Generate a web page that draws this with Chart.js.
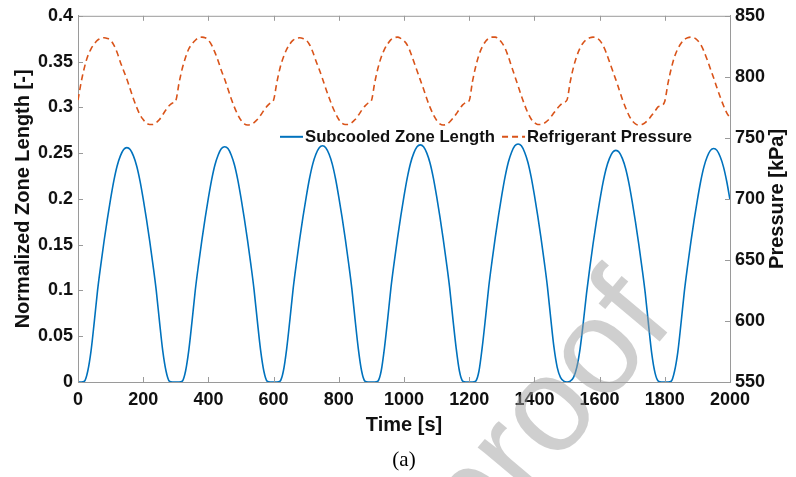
<!DOCTYPE html>
<html lang="en">
<head>
<meta charset="UTF-8">
<title>Subcooled zone length and refrigerant pressure</title>
<script src="https://cdn.jsdelivr.net/npm/chart.js"></script>
<style>
  html, body { margin: 0; padding: 0; background: #fff; }
  canvas { display: block; }
</style>
</head>
<body>
<canvas id="chart" width="796" height="477"></canvas>
<script>
// sampling grid, every 10 s from 0 to 2000 s
const time = Array.from({ length: 201 }, (_, i) => i * 10);

// normalized subcooled zone length [-]
const zoneLength = [
  0, 0, 0.001, 0.012, 0.034, 0.066, 0.100, 0.128, 0.154, 0.178, 0.200, 0.220, 0.236, 0.247, 0.254, 0.256,
  0.254, 0.247, 0.236, 0.220, 0.200, 0.178, 0.154, 0.128, 0.100, 0.066, 0.034, 0.012, 0.001, 0,
  0,
  0, 0.001, 0.012, 0.035, 0.067, 0.101, 0.129, 0.155, 0.179, 0.201, 0.221, 0.237, 0.248, 0.255, 0.257,
  0.255, 0.248, 0.237, 0.221, 0.201, 0.179, 0.155, 0.129, 0.101, 0.067, 0.035, 0.012, 0.001, 0,
  0,
  0, 0.001, 0.012, 0.036, 0.068, 0.102, 0.130, 0.156, 0.180, 0.202, 0.222, 0.238, 0.249, 0.256, 0.258,
  0.256, 0.249, 0.238, 0.222, 0.202, 0.180, 0.156, 0.130, 0.102, 0.068, 0.036, 0.012, 0.001, 0,
  0,
  0, 0.001, 0.012, 0.037, 0.069, 0.103, 0.131, 0.157, 0.181, 0.203, 0.223, 0.239, 0.250, 0.257, 0.259,
  0.257, 0.250, 0.239, 0.223, 0.203, 0.181, 0.157, 0.131, 0.103, 0.069, 0.037, 0.012, 0.001, 0,
  0,
  0, 0.001, 0.012, 0.038, 0.070, 0.104, 0.132, 0.158, 0.182, 0.204, 0.224, 0.240, 0.251, 0.258, 0.260,
  0.258, 0.251, 0.240, 0.224, 0.204, 0.182, 0.158, 0.132, 0.104, 0.070, 0.038, 0.016, 0.005, 0.001,
  0,
  0.001, 0.005, 0.016, 0.036, 0.065, 0.097, 0.125, 0.151, 0.175, 0.197, 0.217, 0.233, 0.244, 0.251, 0.253,
  0.251, 0.244, 0.233, 0.217, 0.197, 0.175, 0.151, 0.125, 0.097, 0.063, 0.031, 0.010, 0.001, 0,
  0,
  0, 0.001, 0.012, 0.033, 0.065, 0.099, 0.127, 0.153, 0.177, 0.199, 0.219, 0.235, 0.246, 0.253, 0.255,
  0.253, 0.246, 0.235, 0.219, 0.199
];

// refrigerant pressure [kPa]
const pressure = [
  781, 796, 808, 817, 823, 827, 830, 831.5, 832, 831.5, 830, 826, 820, 812, 805,
  798, 790, 782, 775, 769, 765, 762, 761, 761, 762.5, 765, 769, 773, 776.5, 778.5,
  780.5, 795, 807, 816, 823, 827, 830, 832, 832.5, 832, 830, 826, 820, 813, 805,
  798, 790, 782, 775, 769, 764.5, 761.5, 760.5, 761, 762.5, 765, 768.5, 772.5, 776, 778.5,
  781, 795.5, 807.5, 816, 822.5, 827, 830, 831.5, 832, 831.5, 830, 826.5, 820.5, 813, 806,
  798.5, 790.5, 783, 776, 770, 765, 762, 761, 761, 762.5, 765, 768.5, 772.5, 776, 778.5,
  780.5, 795, 807, 816, 822.5, 827, 830.5, 832, 832.5, 831.5, 829.5, 826, 820, 812.5, 805,
  797.5, 790, 782, 775, 769, 764.5, 761.5, 760.5, 761, 763, 766, 769.5, 773.5, 777, 779,
  780.5, 796, 808.5, 818, 824.5, 829, 831.5, 832.5, 832.5, 831, 828, 823.5, 816.5, 808.5, 800.5,
  792.5, 784.5, 777, 770.5, 765.5, 762.5, 761, 761, 762, 764, 767, 770.5, 774, 777, 779,
  781, 796, 808, 817, 823.5, 828, 830.5, 832, 832.5, 832, 830, 826, 820, 812.5, 805,
  797.5, 789.5, 781.5, 774.5, 768.5, 764, 761.5, 760.5, 761, 762.5, 765, 768.5, 772, 775.5, 776.5,
  780, 795, 807, 816.5, 823, 827.5, 830.5, 832, 832.5, 832, 830, 826.5, 821, 814, 806.5,
  799, 791, 783.5, 776.5, 770.5,
  766.5
];

const xTicks = [0, 200, 400, 600, 800, 1000, 1200, 1400, 1600, 1800, 2000];
const leftTicks = [0, 0.05, 0.1, 0.15, 0.2, 0.25, 0.3, 0.35, 0.4];
const rightTicks = [550, 600, 650, 700, 750, 800, 850];

const BLUE = '#0072BD';
const ORANGE = '#D95319';
const AXIS = '#9a9a9a';
const TXT = '#111';
const FAMILY = 'Arial, "Liberation Sans", sans-serif';
const tickFont = { family: FAMILY, size: 18, weight: 'bold' };
const labelFont = { family: FAMILY, size: 20, weight: 'bold' };

// inward ticks, top border, right title, in-plot legend, caption and watermark
const decorations = {
  id: 'decorations',
  afterDraw(chart) {
    const { ctx, chartArea: a, scales } = chart;
    ctx.save();

    // top border
    ctx.strokeStyle = AXIS;
    ctx.lineWidth = 1;
    ctx.beginPath();
    ctx.moveTo(a.left, a.top + 0.5);
    ctx.lineTo(a.right, a.top + 0.5);
    ctx.stroke();

    // inward tick marks
    const len = 5;
    ctx.beginPath();
    xTicks.forEach(v => {
      const px = Math.round(scales.x.getPixelForValue(v)) + 0.5;
      ctx.moveTo(px, a.bottom); ctx.lineTo(px, a.bottom - len);
      ctx.moveTo(px, a.top); ctx.lineTo(px, a.top + len);
    });
    leftTicks.forEach(v => {
      const py = Math.round(scales.y.getPixelForValue(v)) + 0.5;
      ctx.moveTo(a.left, py); ctx.lineTo(a.left + len, py);
    });
    rightTicks.forEach(v => {
      const py = Math.round(scales.y2.getPixelForValue(v)) + 0.5;
      ctx.moveTo(a.right, py); ctx.lineTo(a.right - len, py);
    });
    ctx.stroke();

    // right axis title, reading bottom to top like the left one
    ctx.save();
    ctx.translate(777, (a.top + a.bottom) / 2);
    ctx.rotate(-Math.PI / 2);
    ctx.font = 'bold 20px ' + FAMILY;
    ctx.fillStyle = TXT;
    ctx.textAlign = 'center';
    ctx.textBaseline = 'middle';
    ctx.fillText('Pressure [kPa]', 0, 0);
    ctx.restore();

    // legend inside the plot, no frame
    ctx.font = 'bold 16.7px ' + FAMILY;
    ctx.textBaseline = 'middle';
    ctx.textAlign = 'left';
    let lx = a.left + 202;
    const ly = a.top + 121;
    chart.data.datasets.forEach(ds => {
      ctx.strokeStyle = ds.borderColor;
      ctx.lineWidth = 2;
      ctx.setLineDash(ds.borderDash || []);
      ctx.beginPath();
      ctx.moveTo(lx, ly); ctx.lineTo(lx + 23, ly);
      ctx.stroke();
      ctx.setLineDash([]);
      ctx.fillStyle = TXT;
      ctx.fillText(ds.label, lx + 25, ly + 1);
      lx += 25 + ctx.measureText(ds.label).width + 7;
    });

    // caption
    ctx.font = '21px "Liberation Serif", "DejaVu Serif", serif';
    ctx.textAlign = 'center';
    ctx.fillStyle = '#000';
    ctx.fillText('(a)', (a.left + a.right) / 2, 460);

    // watermark
    ctx.translate(676, 322);
    ctx.rotate(-50 * Math.PI / 180);
    ctx.font = '135px ' + FAMILY;
    ctx.textAlign = 'right';
    ctx.textBaseline = 'alphabetic';
    ctx.fillStyle = 'rgba(160,160,160,0.5)';
    ctx.fillText('Journal Pre-proof', 0, 0);

    ctx.restore();
  }
};

new Chart(document.getElementById('chart'), {
  type: 'line',
  data: {
    datasets: [
      {
        label: 'Subcooled Zone Length',
        data: time.map((t, i) => ({ x: t, y: zoneLength[i] })),
        yAxisID: 'y',
        borderColor: BLUE,
        borderWidth: 1.6,
        pointRadius: 0,
        cubicInterpolationMode: 'monotone',
        fill: false
      },
      {
        label: 'Refrigerant Pressure',
        data: time.map((t, i) => ({ x: t, y: pressure[i] })),
        yAxisID: 'y2',
        borderColor: ORANGE,
        borderWidth: 1.6,
        borderDash: [6, 4],
        pointRadius: 0,
        cubicInterpolationMode: 'monotone',
        fill: false
      }
    ]
  },
  options: {
    responsive: false,
    animation: false,
    layout: { padding: { top: 13, left: 0, right: 0, bottom: 0 } },
    plugins: {
      legend: { display: false },
      tooltip: { enabled: false }
    },
    scales: {
      x: {
        type: 'linear',
        min: 0,
        max: 2000,
        afterBuildTicks: s => { s.ticks = xTicks.map(v => ({ value: v })); },
        afterFit: s => { s.height = 95; },
        ticks: { font: tickFont, color: TXT, padding: 7, maxRotation: 0, callback: v => String(v) },
        grid: { display: true, drawOnChartArea: false, drawTicks: false },
        border: { color: AXIS, width: 1 },
        title: { display: true, text: 'Time [s]', font: labelFont, color: TXT, padding: { top: 0, bottom: 40 } }
      },
      y: {
        position: 'left',
        min: 0,
        max: 0.4,
        afterBuildTicks: s => { s.ticks = leftTicks.map(v => ({ value: v })); },
        afterFit: s => { s.width = 78; },
        ticks: { font: tickFont, color: TXT, padding: 5, callback: v => String(v) },
        grid: { display: true, drawOnChartArea: false, drawTicks: false },
        border: { color: AXIS, width: 1 },
        title: { display: true, text: 'Normalized Zone Length [-]', font: labelFont, color: TXT, padding: { top: 11, bottom: 0 } }
      },
      y2: {
        position: 'right',
        min: 550,
        max: 850,
        afterBuildTicks: s => { s.ticks = rightTicks.map(v => ({ value: v })); },
        afterFit: s => { s.width = 66; },
        ticks: { font: tickFont, color: TXT, padding: 5, callback: v => String(v) },
        grid: { display: true, drawOnChartArea: false, drawTicks: false },
        border: { color: AXIS, width: 1 },
        title: { display: false }
      }
    }
  },
  plugins: [decorations]
});
</script>
</body>
</html>
